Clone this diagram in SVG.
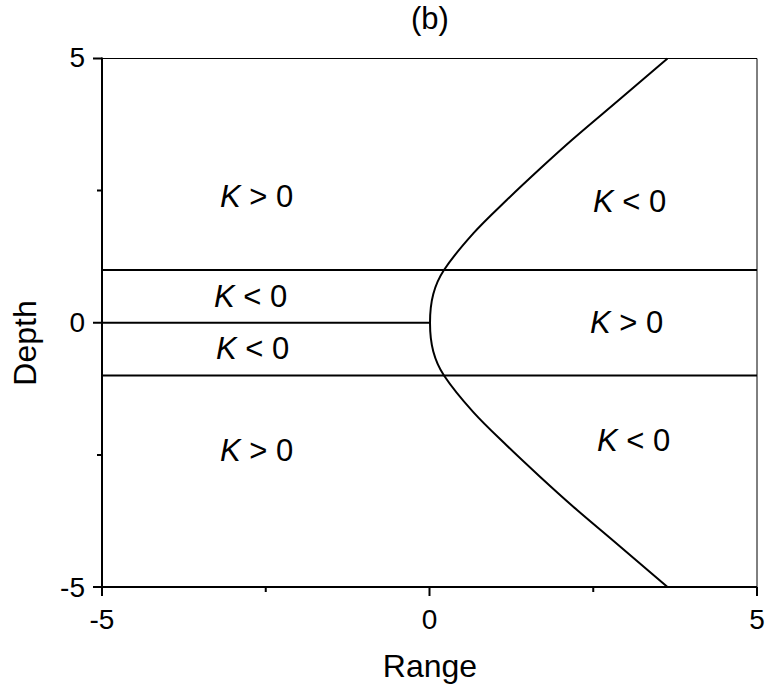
<svg xmlns="http://www.w3.org/2000/svg" width="771" height="696" viewBox="0 0 771 696">
<style>
text{font-family:"Liberation Sans",Arial,sans-serif;fill:#000}
.tick{font-size:28px}
.lab{font-size:32px}
.ttl{font-size:31px}
.k{font-size:31px}
.ln{stroke:#000;stroke-width:2;fill:none}
.thin{stroke:#000;stroke-width:1;fill:none}
</style>
<rect width="771" height="696" fill="#fff"/>
<g id="axes">
<line class="thin" x1="102" y1="58.5" x2="757" y2="58.5"/>
<line class="thin" x1="757" y1="58.5" x2="757" y2="587"/>
<line class="ln" x1="102" y1="57.5" x2="102" y2="588"/>
<line class="ln" x1="101" y1="587" x2="757" y2="587"/>
<path class="ln" d="M93 58.5H102M93 322.75H102M93 587H102M97 190.6H102M97 454.9H102"/>
<path class="ln" d="M102 587V596M429.5 587V596M757 587V596M265.75 587V592M593.25 587V592"/>
<text class="tick" x="85" y="67" text-anchor="end">5</text>
<text class="tick" x="85" y="332" text-anchor="end">0</text>
<text class="tick" x="85" y="597" text-anchor="end">-5</text>
<text class="tick" x="102" y="629" text-anchor="middle">-5</text>
<text class="tick" x="429.5" y="629" text-anchor="middle">0</text>
<text class="tick" x="757" y="629" text-anchor="middle">5</text>
<text class="lab" x="430" y="677" text-anchor="middle">Range</text>
<text class="lab" transform="translate(36,343) rotate(-90)" text-anchor="middle">Depth</text>
<text class="ttl" x="430" y="29" text-anchor="middle">(b)</text>
</g>
<g id="connectors">
<line class="ln" x1="102" y1="270" x2="757" y2="270"/>
<line class="ln" x1="102" y1="375.5" x2="757" y2="375.5"/>
<line class="ln" x1="102" y1="322.75" x2="430" y2="322.75"/>
<path class="ln" d="M667.5 58.5C651 72.58 633.7 87.375 618 100.75C602.3 114.125 586.3 127.42 573.3 138.75C560.3 150.08 551.05 158.58 540 168.75C528.95 178.92 518.12 188.98 507 199.75C495.88 210.52 483.8 221.64 473.3 233.35C462.8 245.06 450.67 259.89 444 270C437.33 280.11 435.63 285.21 433.3 294C430.97 302.79 430 313.17 430 322.75C430 332.33 430.97 342.71 433.3 351.5C435.63 360.29 437.33 365.39 444 375.5C450.67 385.61 462.8 400.44 473.3 412.15C483.8 423.86 495.88 434.98 507 445.75C518.12 456.52 528.95 466.58 540 476.75C551.05 486.92 560.3 495.42 573.3 506.75C586.3 518.08 602.3 531.375 618 544.75C633.7 558.125 651 572.92 667.5 587"/>
</g>
<g id="labels">
<text class="k" x="220" y="207"><tspan font-style="italic">K</tspan> &gt; 0</text>
<text class="k" x="593" y="212"><tspan font-style="italic">K</tspan> &lt; 0</text>
<text class="k" x="214" y="307"><tspan font-style="italic">K</tspan> &lt; 0</text>
<text class="k" x="590" y="333"><tspan font-style="italic">K</tspan> &gt; 0</text>
<text class="k" x="216" y="359"><tspan font-style="italic">K</tspan> &lt; 0</text>
<text class="k" x="220" y="461"><tspan font-style="italic">K</tspan> &gt; 0</text>
<text class="k" x="597" y="451"><tspan font-style="italic">K</tspan> &lt; 0</text>
</g>
</svg>
